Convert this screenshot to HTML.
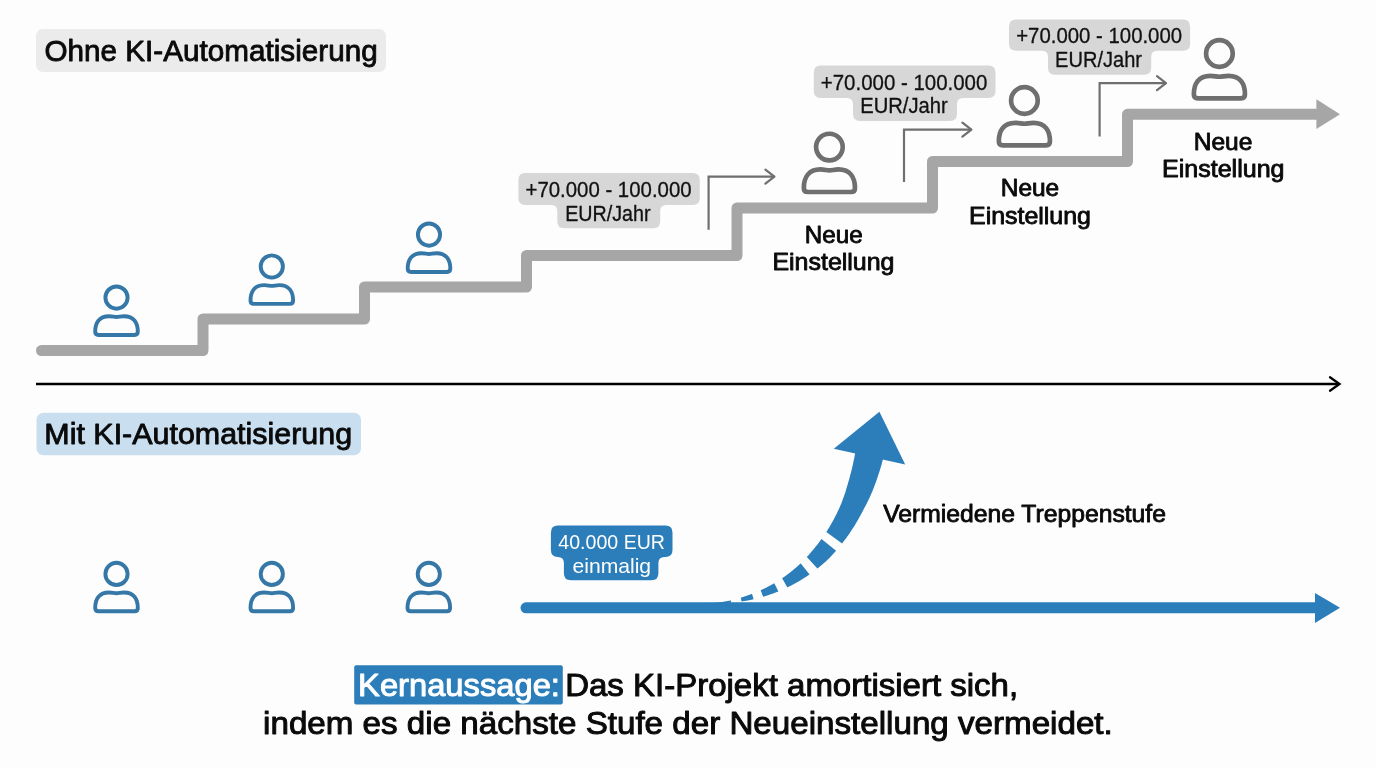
<!DOCTYPE html>
<html><head><meta charset="utf-8"><title>KI-Automatisierung</title>
<style>html,body{margin:0;padding:0;background:#fdfdfd;width:1376px;height:768px;overflow:hidden}svg{display:block;will-change:transform}text{font-family:"Liberation Sans",sans-serif}</style>
</head><body><svg width="1376" height="768" viewBox="0 0 1376 768" font-family="Liberation Sans, sans-serif"><rect x="36" y="29" width="350" height="43" rx="7" fill="#ebebeb"/><rect x="36.5" y="412.7" width="324.5" height="42.5" rx="7" fill="#c9dff0"/><path d="M525.4,173.1 H692.8 Q699.8,173.1 699.8,180.1 V198 Q699.8,205 692.8,205 H666.2 Q660.2,205 660.2,211 V221.3 Q660.2,228.3 653.2,228.3 H564.3 Q557.3,228.3 557.3,221.3 V211 Q557.3,205 551.3,205 H525.4 Q518.4,205 518.4,198 V180.1 Q518.4,173.1 525.4,173.1 Z" fill="#d7d7d7"/><path d="M820.8,65.5 H988.5 Q995.5,65.5 995.5,72.5 V90.9 Q995.5,97.9 988.5,97.9 H963 Q957,97.9 957,103.9 V114.1 Q957,121.1 950,121.1 H860 Q853,121.1 853,114.1 V103.9 Q853,97.9 847,97.9 H820.8 Q813.8,97.9 813.8,90.9 V72.5 Q813.8,65.5 820.8,65.5 Z" fill="#d7d7d7"/><path d="M1016,19.4 H1183.1 Q1190.1,19.4 1190.1,26.4 V43.7 Q1190.1,50.7 1183.1,50.7 H1157.2 Q1151.2,50.7 1151.2,56.7 V67.7 Q1151.2,74.7 1144.2,74.7 H1055 Q1048,74.7 1048,67.7 V56.7 Q1048,50.7 1042,50.7 H1016 Q1009,50.7 1009,43.7 V26.4 Q1009,19.4 1016,19.4 Z" fill="#d7d7d7"/><path d="M557.9,525.6 H665.5 Q672.5,525.6 672.5,532.6 V549.9 Q672.5,556.9 665.5,556.9 H664.4 Q658.4,556.9 658.4,562.9 V573.3 Q658.4,580.3 651.4,580.3 H570.9 Q563.9,580.3 563.9,573.3 V562.9 Q563.9,556.9 557.9,556.9 H557.9 Q550.9,556.9 550.9,549.9 V532.6 Q550.9,525.6 557.9,525.6 Z" fill="#2b7eba"/><rect x="354.2" y="665.2" width="208.6" height="39.3" rx="2" fill="#2b7eba"/><path d="M41.5,350.5 H203 V319 H364.5 V287 H526.5 V255.5 H737 V208 H932.5 V161.5 H1127.5 V114.3 H1318" fill="none" stroke="#a6a6a6" stroke-width="11" stroke-linejoin="round" stroke-linecap="round"/><path d="M1316.4,99.2 L1340,114.2 L1316.4,129 Z" fill="#a6a6a6"/><path d="M708.6,229.7 V176.7 H774.4" fill="none" stroke="#6f6f6f" stroke-width="2.2"/><path d="M765.4,169.7 L774.4,176.7 L765.4,183.7" fill="none" stroke="#6f6f6f" stroke-width="2.2" stroke-linecap="round" stroke-linejoin="round"/><path d="M904,182 V129.7 H971.4" fill="none" stroke="#6f6f6f" stroke-width="2.2"/><path d="M962.4,122.69999999999999 L971.4,129.7 L962.4,136.7" fill="none" stroke="#6f6f6f" stroke-width="2.2" stroke-linecap="round" stroke-linejoin="round"/><path d="M1099.6,136.5 V83.2 H1166" fill="none" stroke="#6f6f6f" stroke-width="2.2"/><path d="M1157,76.2 L1166,83.2 L1157,90.2" fill="none" stroke="#6f6f6f" stroke-width="2.2" stroke-linecap="round" stroke-linejoin="round"/><path d="M36,384 H1338" stroke="#000" stroke-width="2.3" fill="none"/><path d="M1330,377.3 L1339.5,384 L1330,390.7" stroke="#000" stroke-width="2.3" fill="none" stroke-linecap="round" stroke-linejoin="miter"/><path d="M526,607.8 H1318" stroke="#2b7eba" stroke-width="11" stroke-linecap="round" fill="none"/><path d="M1315,592.9 L1340,607.7 L1315,623 Z" fill="#2b7eba"/><path d="M703.6,603.6 L704.3,603.6 L705.0,603.6 L705.7,603.5 L706.4,603.5 L707.1,603.5 L707.8,603.4 L708.5,603.4 L709.2,603.3 L709.9,603.3 L710.6,603.2 L711.3,603.2 L712.0,603.1 L712.7,603.0 L713.4,603.0 L714.1,602.9 L714.8,602.8 L715.5,602.8 L716.2,602.7 L716.9,602.6 L717.7,602.5 L718.4,602.4 L719.1,602.3 L719.8,602.3 L720.5,602.2 L721.2,602.1 L721.9,602.0 L722.5,601.9 L723.2,601.8 L723.9,601.7 L724.6,601.5 L725.3,601.4 L726.0,601.3 L726.7,601.2 L727.4,601.1 L728.1,601.0 L728.8,600.8 L729.5,600.7 L730.1,600.6 L730.9,600.4 L731.2,602.6 L730.5,602.7 L729.8,602.8 L729.1,602.8 L728.3,602.9 L727.6,603.0 L726.9,603.0 L726.2,603.1 L725.5,603.2 L724.8,603.2 L724.1,603.3 L723.4,603.3 L722.7,603.4 L722.0,603.4 L721.3,603.5 L720.6,603.5 L719.9,603.5 L719.2,603.6 L718.5,603.6 L717.8,603.6 L717.0,603.7 L716.3,603.7 L715.6,603.7 L714.9,603.7 L714.2,603.7 L713.5,603.8 L712.8,603.8 L712.1,603.8 L711.4,603.8 L710.7,603.8 L710.0,603.8 L709.3,603.8 L708.6,603.8 L707.9,603.8 L707.2,603.7 L706.4,603.7 L705.7,603.7 L705.0,603.7 L704.3,603.7 L703.6,603.6Z" fill="#2b7eba"/><path d="M740.8,597.7 L741.0,597.6 L741.3,597.5 L741.6,597.4 L741.9,597.4 L742.2,597.3 L742.5,597.2 L742.8,597.1 L743.0,597.0 L743.4,596.9 L743.6,596.8 L743.9,596.7 L744.2,596.6 L744.5,596.5 L744.8,596.4 L745.1,596.3 L745.4,596.2 L745.7,596.1 L746.0,596.0 L746.2,595.9 L746.5,595.8 L746.8,595.7 L747.1,595.6 L747.4,595.5 L747.7,595.4 L747.9,595.3 L748.3,595.2 L748.5,595.1 L748.9,595.0 L749.1,594.9 L749.4,594.8 L749.7,594.7 L750.0,594.6 L750.2,594.5 L750.6,594.4 L750.8,594.3 L751.1,594.2 L751.4,594.1 L751.7,594.0 L752.0,593.8 L753.6,599.2 L753.3,599.3 L753.0,599.4 L752.6,599.5 L752.4,599.5 L752.1,599.6 L751.7,599.7 L751.4,599.7 L751.2,599.8 L750.8,599.9 L750.5,599.9 L750.2,600.0 L749.9,600.0 L749.6,600.1 L749.3,600.2 L749.0,600.2 L748.7,600.3 L748.3,600.4 L748.1,600.4 L747.8,600.5 L747.4,600.5 L747.1,600.6 L746.8,600.6 L746.5,600.7 L746.2,600.7 L745.9,600.8 L745.6,600.8 L745.3,600.9 L744.9,601.0 L744.6,601.0 L744.4,601.0 L744.0,601.1 L743.7,601.1 L743.4,601.2 L743.1,601.2 L742.8,601.3 L742.5,601.3 L742.2,601.4 L741.9,601.4 L741.6,601.5Z" fill="#2b7eba"/><path d="M760.7,590.3 L761.0,590.1 L761.4,589.9 L761.7,589.8 L762.1,589.6 L762.4,589.4 L762.8,589.3 L763.1,589.1 L763.5,588.9 L763.8,588.8 L764.2,588.6 L764.6,588.4 L764.9,588.3 L765.3,588.1 L765.6,587.9 L766.0,587.7 L766.3,587.5 L766.6,587.4 L767.0,587.2 L767.4,587.0 L767.7,586.8 L768.1,586.6 L768.5,586.4 L768.8,586.3 L769.1,586.1 L769.5,585.9 L769.8,585.7 L770.2,585.5 L770.5,585.4 L770.9,585.1 L771.2,584.9 L771.5,584.8 L771.9,584.6 L772.3,584.4 L772.6,584.2 L772.9,584.0 L773.3,583.8 L773.6,583.6 L774.0,583.4 L774.3,583.2 L778.4,591.4 L778.0,591.6 L777.6,591.7 L777.2,591.9 L776.8,592.0 L776.4,592.2 L776.0,592.3 L775.6,592.5 L775.2,592.7 L774.9,592.8 L774.4,592.9 L774.0,593.1 L773.7,593.2 L773.3,593.4 L772.9,593.5 L772.5,593.7 L772.1,593.8 L771.7,593.9 L771.3,594.1 L770.9,594.2 L770.5,594.3 L770.1,594.5 L769.7,594.6 L769.4,594.8 L768.9,594.9 L768.5,595.0 L768.2,595.2 L767.7,595.3 L767.4,595.4 L767.0,595.5 L766.6,595.7 L766.2,595.8 L765.8,595.9 L765.4,596.1 L765.0,596.2 L764.6,596.3 L764.2,596.4 L763.8,596.5 L763.4,596.7 L763.1,596.8Z" fill="#2b7eba"/><path d="M782.1,578.2 L782.6,577.9 L783.1,577.6 L783.6,577.2 L784.1,576.9 L784.6,576.6 L785.1,576.2 L785.6,575.9 L786.1,575.5 L786.5,575.1 L787.1,574.8 L787.5,574.4 L788.0,574.0 L788.5,573.7 L789.0,573.3 L789.5,572.9 L789.9,572.6 L790.4,572.2 L790.9,571.8 L791.4,571.4 L791.8,571.1 L792.3,570.7 L792.8,570.3 L793.3,569.9 L793.7,569.5 L794.2,569.1 L794.7,568.7 L795.1,568.3 L795.6,567.9 L796.1,567.5 L796.5,567.1 L797.0,566.7 L797.5,566.3 L797.9,565.9 L798.4,565.4 L798.8,565.0 L799.3,564.6 L799.7,564.2 L800.2,563.8 L800.6,563.3 L809.6,574.4 L809.0,574.8 L808.4,575.2 L807.9,575.5 L807.3,575.9 L806.8,576.3 L806.2,576.7 L805.7,577.0 L805.1,577.4 L804.6,577.7 L804.0,578.1 L803.4,578.5 L802.8,578.8 L802.3,579.2 L801.7,579.5 L801.1,579.9 L800.6,580.2 L800.0,580.6 L799.5,580.9 L798.9,581.3 L798.3,581.6 L797.7,581.9 L797.2,582.2 L796.6,582.6 L796.0,582.9 L795.4,583.2 L794.9,583.5 L794.3,583.8 L793.7,584.2 L793.1,584.5 L792.5,584.8 L792.0,585.1 L791.4,585.4 L790.8,585.7 L790.2,586.0 L789.7,586.3 L789.1,586.6 L788.5,586.8 L787.9,587.1 L787.4,587.4Z" fill="#2b7eba"/><path d="M806.8,557.1 L807.1,556.7 L807.5,556.3 L807.9,555.8 L808.3,555.4 L808.7,554.9 L809.1,554.5 L809.5,554.1 L809.9,553.6 L810.3,553.2 L810.6,552.7 L811.0,552.3 L811.4,551.8 L811.8,551.3 L812.2,550.9 L812.6,550.4 L812.9,550.0 L813.3,549.5 L813.7,549.0 L814.1,548.6 L814.4,548.2 L814.8,547.7 L815.2,547.2 L815.5,546.8 L815.9,546.3 L816.3,545.8 L816.7,545.4 L817.1,544.9 L817.4,544.4 L817.8,543.9 L818.2,543.5 L818.6,543.0 L818.9,542.5 L819.3,542.0 L819.7,541.5 L820.0,541.0 L820.4,540.5 L820.8,540.0 L821.1,539.5 L821.5,539.0 L836.1,550.7 L835.6,551.2 L835.2,551.8 L834.7,552.3 L834.3,552.8 L833.8,553.3 L833.3,553.8 L832.9,554.3 L832.4,554.8 L832.0,555.3 L831.5,555.8 L831.0,556.3 L830.6,556.8 L830.1,557.2 L829.6,557.7 L829.1,558.2 L828.7,558.7 L828.2,559.2 L827.7,559.6 L827.2,560.1 L826.8,560.5 L826.3,561.0 L825.8,561.4 L825.3,561.9 L824.8,562.3 L824.3,562.8 L823.8,563.2 L823.3,563.6 L822.8,564.1 L822.3,564.5 L821.8,564.9 L821.3,565.3 L820.8,565.8 L820.3,566.2 L819.8,566.6 L819.3,567.0 L818.8,567.4 L818.3,567.8 L817.8,568.2 L817.4,568.6Z" fill="#2b7eba"/><path d="M826.3,532.1 L827.3,530.5 L828.3,528.8 L829.3,527.2 L830.3,525.5 L831.3,523.8 L832.3,522.1 L833.2,520.4 L834.2,518.6 L835.1,516.8 L836.0,515.0 L836.9,513.2 L837.8,511.3 L838.7,509.4 L839.6,507.5 L840.4,505.6 L841.2,503.7 L842.0,501.7 L842.7,499.6 L843.5,497.6 L844.2,495.6 L844.9,493.5 L845.6,491.4 L846.2,489.3 L846.9,487.1 L847.5,485.0 L848.1,482.7 L848.8,480.6 L849.4,478.4 L850.0,476.1 L850.6,473.9 L851.2,471.5 L851.8,469.3 L852.3,466.9 L852.9,464.6 L853.4,462.1 L853.9,459.7 L854.4,457.3 L854.8,454.9 L856.0,449.5 L883.8,455.7 L882.4,461.3 L881.7,463.9 L881.0,466.5 L880.2,469.1 L879.4,471.8 L878.5,474.3 L877.7,476.8 L876.9,479.3 L876.0,481.8 L875.1,484.2 L874.2,486.6 L873.3,489.0 L872.4,491.3 L871.3,493.7 L870.3,496.0 L869.3,498.2 L868.2,500.4 L867.1,502.7 L866.0,504.9 L864.9,507.0 L863.8,509.1 L862.7,511.3 L861.5,513.4 L860.4,515.4 L859.3,517.4 L858.2,519.4 L857.0,521.5 L855.8,523.5 L854.7,525.4 L853.5,527.3 L852.2,529.3 L851.0,531.1 L849.8,532.9 L848.6,534.7 L847.3,536.6 L846.0,538.4 L844.7,540.1 L843.4,541.8 L842.1,543.5Z" fill="#2b7eba"/><path d="M833.8,448.8 L879.4,411.7 L905.2,464.5 Z" fill="#2b7eba"/><g transform="translate(116.5,297.6) scale(1.0)" fill="none" stroke="#3577a6" stroke-width="3.9" stroke-linejoin="round"><circle cx="0" cy="0" r="11.1"/><path d="M-21.3,34 C-21.3,25.5 -17.5,18.6 -7.5,18.6 C-4,18.6 -2.5,19.4 0,19.4 C2.5,19.4 4,18.6 7.5,18.6 C17.5,18.6 21.3,25.5 21.3,34 Q21.3,37.4 18,37.4 L-18,37.4 Q-21.3,37.4 -21.3,34 Z"/></g><g transform="translate(271.8,266.5) scale(1.0)" fill="none" stroke="#3577a6" stroke-width="3.9" stroke-linejoin="round"><circle cx="0" cy="0" r="11.1"/><path d="M-21.3,34 C-21.3,25.5 -17.5,18.6 -7.5,18.6 C-4,18.6 -2.5,19.4 0,19.4 C2.5,19.4 4,18.6 7.5,18.6 C17.5,18.6 21.3,25.5 21.3,34 Q21.3,37.4 18,37.4 L-18,37.4 Q-21.3,37.4 -21.3,34 Z"/></g><g transform="translate(429,234.6) scale(1.0)" fill="none" stroke="#3577a6" stroke-width="3.9" stroke-linejoin="round"><circle cx="0" cy="0" r="11.1"/><path d="M-21.3,34 C-21.3,25.5 -17.5,18.6 -7.5,18.6 C-4,18.6 -2.5,19.4 0,19.4 C2.5,19.4 4,18.6 7.5,18.6 C17.5,18.6 21.3,25.5 21.3,34 Q21.3,37.4 18,37.4 L-18,37.4 Q-21.3,37.4 -21.3,34 Z"/></g><g transform="translate(116.5,573.9) scale(1.0)" fill="none" stroke="#3577a6" stroke-width="3.9" stroke-linejoin="round"><circle cx="0" cy="0" r="11.1"/><path d="M-21.3,34 C-21.3,25.5 -17.5,18.6 -7.5,18.6 C-4,18.6 -2.5,19.4 0,19.4 C2.5,19.4 4,18.6 7.5,18.6 C17.5,18.6 21.3,25.5 21.3,34 Q21.3,37.4 18,37.4 L-18,37.4 Q-21.3,37.4 -21.3,34 Z"/></g><g transform="translate(271.8,573.9) scale(1.0)" fill="none" stroke="#3577a6" stroke-width="3.9" stroke-linejoin="round"><circle cx="0" cy="0" r="11.1"/><path d="M-21.3,34 C-21.3,25.5 -17.5,18.6 -7.5,18.6 C-4,18.6 -2.5,19.4 0,19.4 C2.5,19.4 4,18.6 7.5,18.6 C17.5,18.6 21.3,25.5 21.3,34 Q21.3,37.4 18,37.4 L-18,37.4 Q-21.3,37.4 -21.3,34 Z"/></g><g transform="translate(428.8,573.9) scale(1.0)" fill="none" stroke="#3577a6" stroke-width="3.9" stroke-linejoin="round"><circle cx="0" cy="0" r="11.1"/><path d="M-21.3,34 C-21.3,25.5 -17.5,18.6 -7.5,18.6 C-4,18.6 -2.5,19.4 0,19.4 C2.5,19.4 4,18.6 7.5,18.6 C17.5,18.6 21.3,25.5 21.3,34 Q21.3,37.4 18,37.4 L-18,37.4 Q-21.3,37.4 -21.3,34 Z"/></g><g transform="translate(829.4,147.1) scale(1.2)" fill="none" stroke="#6f6f6f" stroke-width="3.9" stroke-linejoin="round"><circle cx="0" cy="0" r="11.1"/><path d="M-21.3,34 C-21.3,25.5 -17.5,18.6 -7.5,18.6 C-4,18.6 -2.5,19.4 0,19.4 C2.5,19.4 4,18.6 7.5,18.6 C17.5,18.6 21.3,25.5 21.3,34 Q21.3,37.4 18,37.4 L-18,37.4 Q-21.3,37.4 -21.3,34 Z"/></g><g transform="translate(1024.4,100.5) scale(1.2)" fill="none" stroke="#6f6f6f" stroke-width="3.9" stroke-linejoin="round"><circle cx="0" cy="0" r="11.1"/><path d="M-21.3,34 C-21.3,25.5 -17.5,18.6 -7.5,18.6 C-4,18.6 -2.5,19.4 0,19.4 C2.5,19.4 4,18.6 7.5,18.6 C17.5,18.6 21.3,25.5 21.3,34 Q21.3,37.4 18,37.4 L-18,37.4 Q-21.3,37.4 -21.3,34 Z"/></g><g transform="translate(1219.4,53.5) scale(1.2)" fill="none" stroke="#6f6f6f" stroke-width="3.9" stroke-linejoin="round"><circle cx="0" cy="0" r="11.1"/><path d="M-21.3,34 C-21.3,25.5 -17.5,18.6 -7.5,18.6 C-4,18.6 -2.5,19.4 0,19.4 C2.5,19.4 4,18.6 7.5,18.6 C17.5,18.6 21.3,25.5 21.3,34 Q21.3,37.4 18,37.4 L-18,37.4 Q-21.3,37.4 -21.3,34 Z"/></g><text transform="translate(44.42,61.08) scale(1.0168,1)" font-size="29.20" fill="#0a0a0a" stroke="#0a0a0a" stroke-width="0.85" stroke-linejoin="round">Ohne KI-Automatisierung</text><text transform="translate(44.36,444.38) scale(1.0424,1)" font-size="29.20" fill="#0a0a0a" stroke="#0a0a0a" stroke-width="0.85" stroke-linejoin="round">Mit KI-Automatisierung</text><text transform="translate(525.48,196.95) scale(0.9646,1)" font-size="21.16" fill="#111" stroke="#111" stroke-width="0.3" stroke-linejoin="round">+70.000 - 100.000</text><text transform="translate(565.22,220.65) scale(0.9307,1)" font-size="21.16" fill="#111" stroke="#111" stroke-width="0.3" stroke-linejoin="round">EUR/Jahr</text><text transform="translate(820.78,89.75) scale(0.9675,1)" font-size="21.16" fill="#111" stroke="#111" stroke-width="0.3" stroke-linejoin="round">+70.000 - 100.000</text><text transform="translate(860.18,112.85) scale(0.9552,1)" font-size="21.16" fill="#111" stroke="#111" stroke-width="0.3" stroke-linejoin="round">EUR/Jahr</text><text transform="translate(1016.18,42.65) scale(0.9628,1)" font-size="21.16" fill="#111" stroke="#111" stroke-width="0.3" stroke-linejoin="round">+70.000 - 100.000</text><text transform="translate(1055.10,66.75) scale(0.9474,1)" font-size="21.16" fill="#111" stroke="#111" stroke-width="0.3" stroke-linejoin="round">EUR/Jahr</text><text transform="translate(804.87,242.97) scale(1.0333,1)" font-size="23.41" fill="#0a0a0a" stroke="#0a0a0a" stroke-width="0.85" stroke-linejoin="round">Neue</text><text transform="translate(772.40,270.47) scale(1.0668,1)" font-size="23.41" fill="#0a0a0a" stroke="#0a0a0a" stroke-width="0.85" stroke-linejoin="round">Einstellung</text><text transform="translate(1000.74,196.22) scale(1.0446,1)" font-size="23.41" fill="#0a0a0a" stroke="#0a0a0a" stroke-width="0.85" stroke-linejoin="round">Neue</text><text transform="translate(969.01,224.17) scale(1.0650,1)" font-size="23.41" fill="#0a0a0a" stroke="#0a0a0a" stroke-width="0.85" stroke-linejoin="round">Einstellung</text><text transform="translate(1193.74,149.57) scale(1.0465,1)" font-size="23.41" fill="#0a0a0a" stroke="#0a0a0a" stroke-width="0.85" stroke-linejoin="round">Neue</text><text transform="translate(1162.00,177.07) scale(1.0704,1)" font-size="23.41" fill="#0a0a0a" stroke="#0a0a0a" stroke-width="0.85" stroke-linejoin="round">Einstellung</text><text transform="translate(883.15,522.18) scale(1.0119,1)" font-size="24.42" fill="#0a0a0a" stroke="#0a0a0a" stroke-width="0.85" stroke-linejoin="round">Vermiedene Treppenstufe</text><text transform="translate(558.36,549.00) scale(0.9651,1)" font-size="20.29" fill="#ffffff">40.000 EUR</text><text transform="translate(572.45,572.50) scale(1.0415,1)" font-size="20.29" fill="#ffffff">einmalig</text><text transform="translate(358.08,696.10) scale(1.0169,1)" font-size="32.17" fill="#ffffff" stroke="#ffffff" stroke-width="1.0" stroke-linejoin="round">Kernaussage:</text><text transform="translate(565.16,696.10) scale(1.0262,1)" font-size="32.17" fill="#0a0a0a" stroke="#0a0a0a" stroke-width="1.0" stroke-linejoin="round">Das KI-Projekt amortisiert sich,</text><text transform="translate(263.08,733.70) scale(1.0314,1)" font-size="32.17" fill="#0a0a0a" stroke="#0a0a0a" stroke-width="1.0" stroke-linejoin="round">indem es die nächste Stufe der Neueinstellung vermeidet.</text></svg></body></html>
